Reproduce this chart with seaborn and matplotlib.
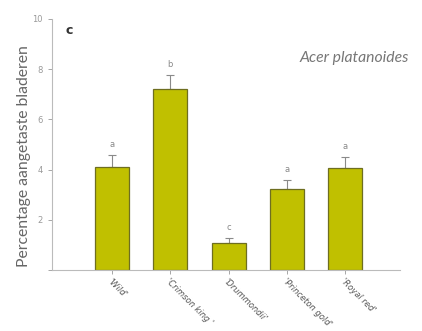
import numpy as np
import pandas as pd
import seaborn as sns
import matplotlib.pyplot as plt

cultivars = ["'Wild'", "'Crimson king '", "'Drummondii'", "'Princeton gold'", "'Royal red'"]
means = [4.1, 7.21, 1.07, 3.23, 4.06]
errors = [0.48, 0.56, 0.2, 0.36, 0.44]
letters = ["a", "b", "c", "a", "a"]

df = pd.DataFrame({"cultivar": cultivars, "pct": means})

sns.set_style("white")
plt.rcParams['font.family'] = ['DejaVu Sans']
fig = plt.figure(figsize=(4.22, 3.31), dpi=100)
ax = fig.add_axes([0.123, 0.184, 0.825, 0.759])

sns.barplot(data=df, x="cultivar", y="pct", color="#c0c000", saturation=1,
            width=0.58, edgecolor="#6e6e20", linewidth=0.9, ax=ax, zorder=2)
ax.errorbar(range(len(means)), means, yerr=[np.zeros(len(errors)), errors],
            fmt="none", ecolor="#8a8a8a", elinewidth=0.8, capsize=3, capthick=0.8, zorder=1)
for i, (m, e, l) in enumerate(zip(means, errors, letters)):
    ax.text(i, m + e + 0.25, l, ha="center", va="bottom", fontsize=6, color="#888888")

ax.set_xlim(-1.03, 4.94)
ax.set_ylim(0, 10)
ax.set_yticks([0, 2, 4, 6, 8, 10])
ax.set_yticklabels(["", "2", "4", "6", "8", "10"])
ax.set_xlabel("")
ax.set_ylabel("Percentage aangetaste bladeren", fontsize=11.3, color="#666666", family="Lato")
ax.yaxis.set_label_coords(-0.06, 0.454)
ax.set_xticks(range(len(cultivars)))
ax.set_xticklabels(cultivars, rotation=-45, ha="left", va="top", rotation_mode="anchor",
                   fontsize=6, color="#555555", style="italic")
ax.tick_params(axis="y", labelsize=6, colors="#999999", length=3, width=0.6, direction="out", left=True)
ax.tick_params(axis="x", length=3, width=0.6, colors="#999999", direction="out", bottom=True, pad=2)
for lab in ax.get_xticklabels():
    lab.set_color("#555555")
sns.despine(ax=ax)
for s in ["left", "bottom"]:
    ax.spines[s].set_color("#bbbbbb")
    ax.spines[s].set_linewidth(0.8)

ax.text(0.04, 0.94, "c", transform=ax.transAxes, fontsize=9, fontweight="bold", color="#333333")
ax.text(1.026, 0.83, "Acer platanoides", transform=ax.transAxes, ha="right", fontsize=11.3,
        style="italic", color="#777777", family="Lato")

fig.savefig("out.png", dpi=100)
